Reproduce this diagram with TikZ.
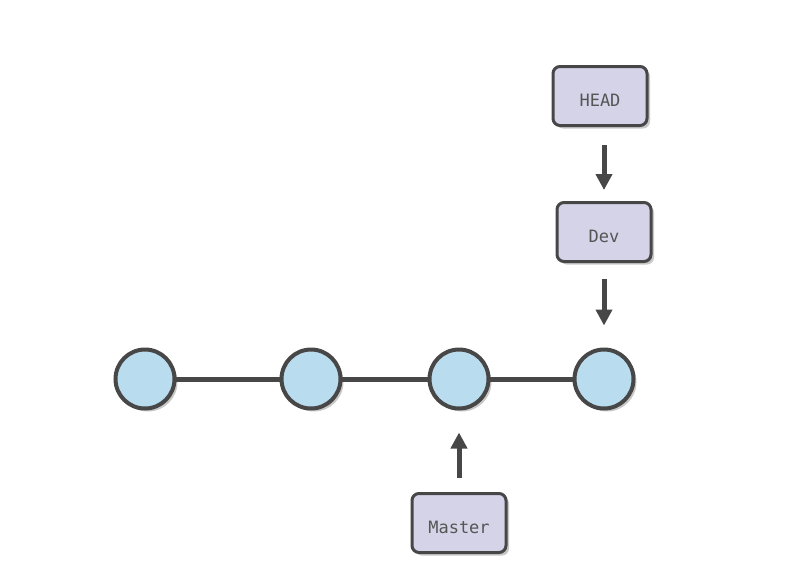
\documentclass[tikz,border=0pt]{standalone}
\usepackage{fontspec}
\setmonofont{DejaVu Sans Mono}
\usepackage{xcolor}
\usepackage{tikz}
\usetikzlibrary{arrows.meta,positioning,shadows}
\definecolor{linec}{HTML}{474747}
\definecolor{nodec}{HTML}{BADCEF}
\definecolor{refc}{HTML}{D5D3E8}
\definecolor{txtc}{HTML}{555555}
\tikzset{
  shd/.style={drop shadow={shadow xshift=3pt,shadow yshift=-3pt,opacity=0.3,fill=black!70}},
  commit/.style={circle,draw=linec,line width=4pt,fill=nodec,minimum size=59pt,inner sep=0pt,shd},
  ref/.style={draw=linec,line width=3pt,rounded corners=7pt,fill=refc,minimum width=94pt,minimum height=59pt,
    font=\ttfamily\fontsize{17}{20}\selectfont,text=txtc,text height=20pt,text depth=0pt,shd},
  edge/.style={linec,line width=5pt},
  ptr/.style={-{Triangle[length=16pt,width=16pt]},linec,line width=5pt}
}

\begin{document}
\begin{tikzpicture}[x=1pt,y=-1pt]
\useasboundingbox (0,0) rectangle (802,576);
% commits
\draw[edge] (145,379) -- (604,379);
\node[commit] (c1) at (145,379) {};
\node[commit] (c2) at (311,379) {};
\node[commit] (c3) at (459,379) {};
\node[commit] (c4) at (604,379) {};
% refs
\node[ref] (head) at (600,96) {HEAD};
\node[ref] (dev) at (604,232) {Dev};
\node[ref] (master) at (459,523) {Master};
% pointers
\draw[ptr,shorten <=18pt,shorten >=11pt] (dev.north |- head.south) -- (dev.north);
\draw[ptr,shorten <=16pt,shorten >=22pt] (dev) -- (c4);
\draw[ptr,shorten <=14pt,shorten >=22pt] (master) -- (c3);
\end{tikzpicture}
\end{document}
